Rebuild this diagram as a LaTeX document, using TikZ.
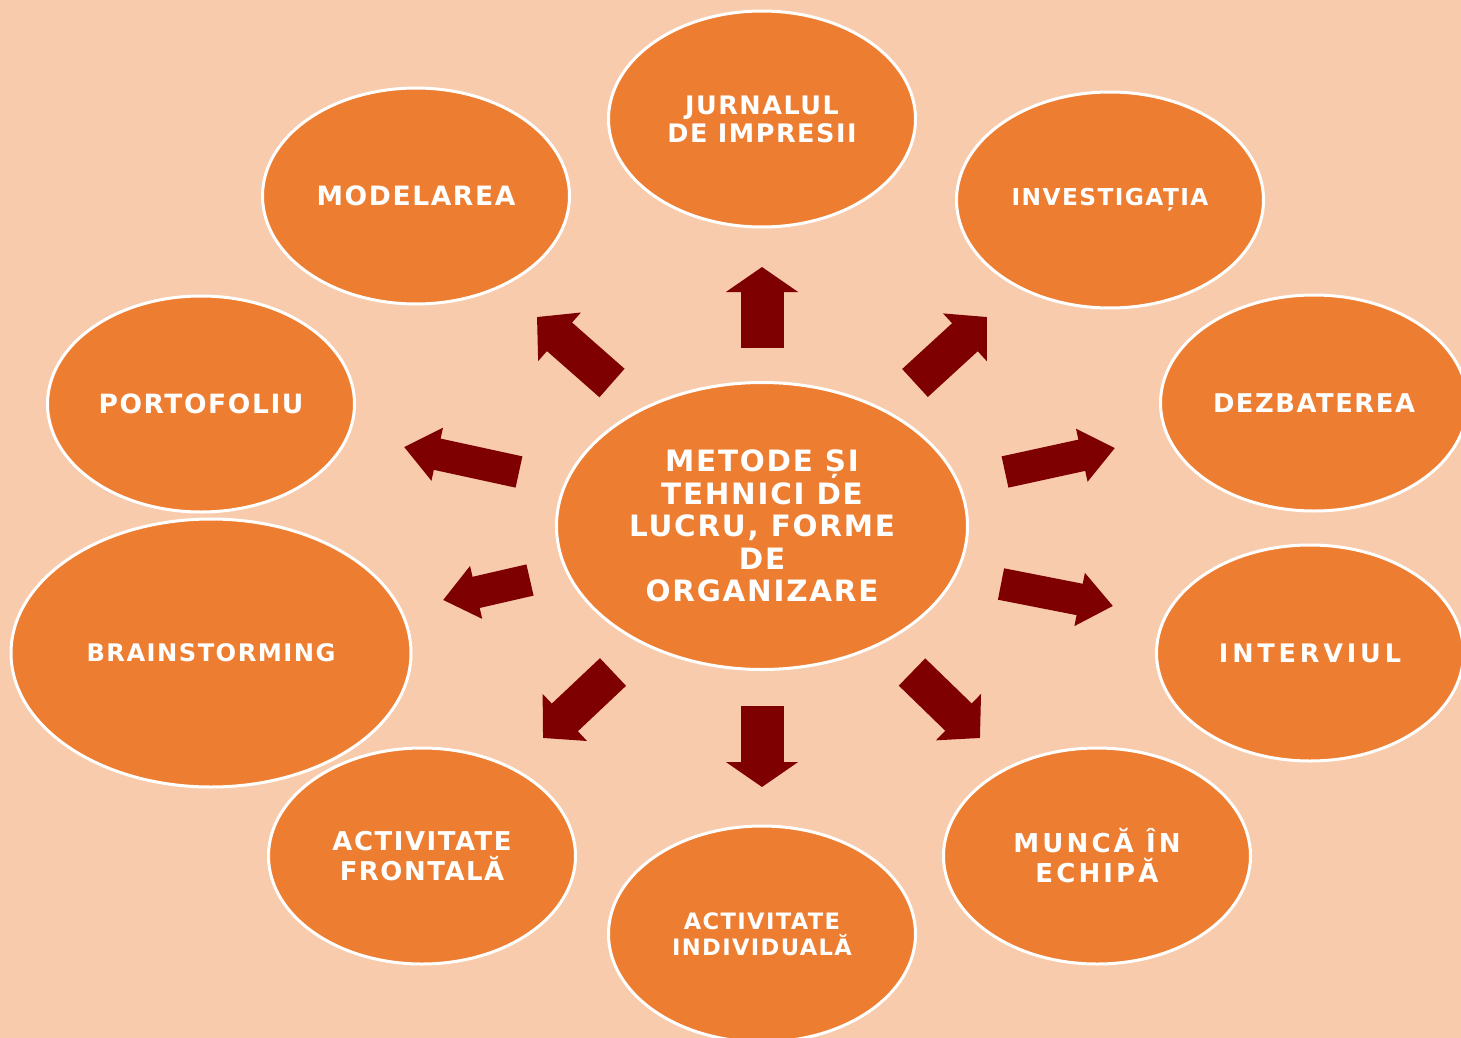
\documentclass[tikz,border=0pt]{standalone}
\usepackage{fontspec}
\setmainfont{DejaVu Sans}
\usetikzlibrary{shapes.geometric,arrows.meta}
\definecolor{peach}{HTML}{F8CBAD}
\definecolor{orng}{HTML}{ED7D31}
\definecolor{darkred}{HTML}{7F0000}
\tikzset{lbl/.style n args={3}{font=\bfseries\fontsize{#1}{#2}\selectfont\addfontfeature{LetterSpace=#3}}}
\tikzstyle{topic}=[ellipse, draw=white, line width=3pt, fill=orng, text=white, inner sep=0pt, minimum width=307pt, minimum height=216pt, align=center]
\tikzstyle{main}=[topic, minimum width=411pt, minimum height=287pt]
\tikzstyle{edge}=[draw=darkred, line width=43pt, -{Triangle[width=71pt,length=25pt]}]
\tikzstyle{dedge}=[draw=darkred, line width=38pt, -{Triangle[width=63pt,length=30pt]}]
\tikzstyle{hedge}=[draw=darkred, line width=32pt, -{Triangle[width=52pt,length=34pt]}]
\begin{document}
\begin{tikzpicture}[x=1pt, y=-1pt]
				%The background
				\fill[peach] (0,0) rectangle (1461,1038);
				\useasboundingbox (0,0) rectangle (1461,1038);
				
				%The centre
				\draw (762,526) node[main, lbl={29.4}{32.5}{6}] (c) {METODE ȘI\\TEHNICI DE\\LUCRU, FORME\\DE\\ORGANIZARE};
				
				%The topics
				\draw (762,119) node[topic, lbl={25.5}{28}{6}] (jurnal) {JURNALUL\\DE IMPRESII};
				\draw (1110,200) node[topic, lbl={23.3}{27}{6}] (invest) {INVESTIGAȚIA};
				\draw (1314,403) node[topic, lbl={25.8}{28}{6}] (dezbat) {DEZBATEREA};
				\draw (1310,653) node[topic, lbl={25.5}{28}{15}] (interv) {INTERVIUL};
				\draw (1097,856) node[topic, lbl={26}{30}{12}] (munca) {MUNCĂ ÎN\\ECHIPĂ};
				\draw (762,934) node[topic, lbl={22.6}{26}{6}] (indiv) {ACTIVITATE\\INDIVIDUALĂ};
				\draw (422,856) node[topic, lbl={25.9}{30}{6}] (front) {ACTIVITATE\\FRONTALĂ};
				\draw (211,653) node[topic, minimum width=400pt, minimum height=268pt, lbl={24.2}{28}{6}] (brain) {BRAINSTORMING};
				\draw (201,404) node[topic, lbl={26.5}{28}{6}] (porto) {PORTOFOLIU};
				\draw (416,196) node[topic, lbl={26.6}{28}{6}] (model) {MODELAREA};
				
				%The arrow ends
				\coordinate (t1) at (762,348);  \coordinate (h1) at (762,267);
				\coordinate (t2) at (915,383);  \coordinate (h2) at (987,317);
				\coordinate (t3) at (1005,472); \coordinate (h3) at (1115,448);
				\coordinate (t4) at (1001,584); \coordinate (h4) at (1113,606);
				\coordinate (t5) at (912,672);  \coordinate (h5) at (980,738);
				\coordinate (t6) at (762,706);  \coordinate (h6) at (762,787);
				\coordinate (t7) at (613,672);  \coordinate (h7) at (543,738);
				\coordinate (t8) at (530,580);  \coordinate (h8) at (443,600);
				\coordinate (t9) at (519,472);  \coordinate (h9) at (404,447);
				\coordinate (t10) at (612,383); \coordinate (h10) at (537,317);
				
				%The arrows
				\draw[edge] (t1) -- (h1);
				\draw[dedge] (t2) -- (h2);
				\draw[hedge] (t3) -- (h3);
				\draw[hedge] (t4) -- (h4);
				\draw[dedge] (t5) -- (h5);
				\draw[edge] (t6) -- (h6);
				\draw[dedge] (t7) -- (h7);
				\draw[hedge] (t8) -- (h8);
				\draw[hedge] (t9) -- (h9);
				\draw[dedge] (t10) -- (h10);
\end{tikzpicture}
\end{document}
